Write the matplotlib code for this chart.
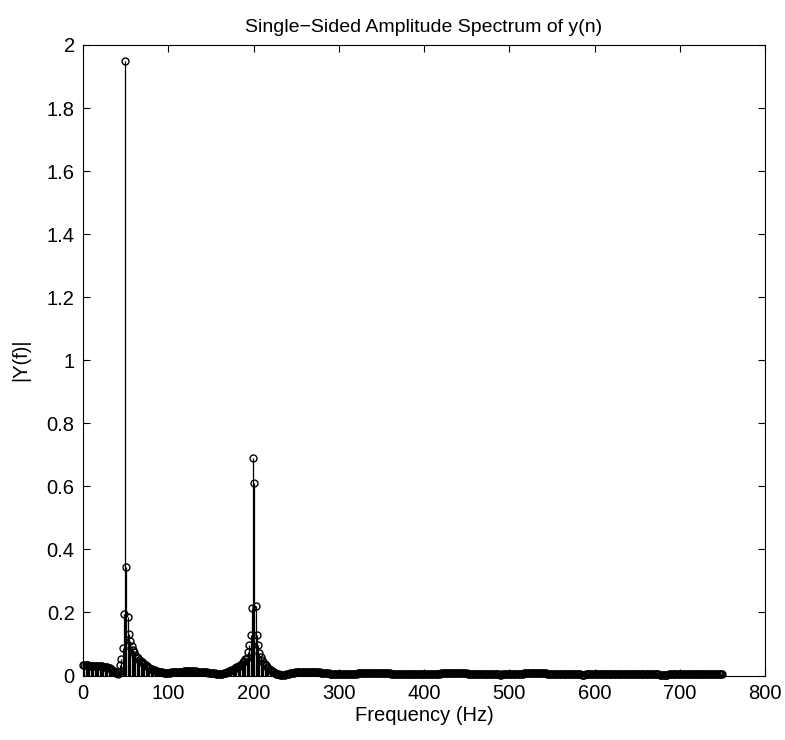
# Single-sided amplitude spectrum, stem plot

import numpy as np
import matplotlib
matplotlib.use('Agg')
from matplotlib import pyplot as plt

plt.rcParams['font.family'] = ['Liberation Sans', 'DejaVu Sans']

Fs = 1500        # sampling frequency
L = 1000         # number of samples -> bin width Fs/L = 1.5 Hz

# |Y(f)|, in thousandths, one value per bin (0 .. 750 Hz)
amp_0_48 = [33, 32, 32, 32, 32, 31, 31, 31, 31, 31, 30, 30, 30, 30, 29, 29, 28, 28, 27,
            26, 25, 23, 21, 18, 15, 12, 8, 5, 12, 32, 51, 88, 195]
amp_peak50 = [1950]
amp_51_102 = [345, 184, 133, 109, 93, 81, 73, 66, 60, 55, 50, 46, 42, 39, 36, 33, 30, 27,
              25, 22, 20, 18, 16, 14, 13, 12, 11, 10, 10, 9, 9, 9, 9, 9, 9]
amp_103_160 = [10, 10, 10, 11, 11, 11, 12, 12, 12, 12, 13, 13, 13, 13, 13, 13, 13, 13, 13, 13,
               12, 12, 12, 12, 11, 11, 11, 10, 10, 9, 9, 8, 8, 7, 7, 6, 6, 5, 5]
amp_162_198 = [5, 6, 7, 8, 9, 11, 13, 15, 17, 19, 21, 23, 26, 28, 31, 34, 38, 42, 47, 52,
               57, 74, 96, 130, 215]
amp_peak200 = [690, 610]
amp_202_234 = [220, 130, 96, 72, 59, 50, 43, 37, 32, 27, 23, 19, 16, 13, 10, 8, 6, 5, 4, 3, 2, 1]
amp_235_298 = [2, 3, 4, 5, 6, 7, 8, 9, 9, 10, 10, 11, 11, 11, 11, 12, 12, 12, 12, 12,
               12, 11, 11, 11, 11, 11, 10, 10, 10, 9, 9, 9, 8, 8, 7, 7, 6, 6, 5, 5, 5, 4, 4]
amp_300_393 = [4, 4, 4, 5, 5, 5, 5, 5, 6, 6, 6, 6, 6, 6, 6, 7, 7, 7, 7, 7, 7, 7, 7, 7, 7, 7, 7,
               7, 7, 7, 7, 7, 7, 7, 7, 7, 7, 7, 7, 7, 7, 6, 6, 6, 6, 6, 6, 6, 6, 6, 5, 5, 5, 5,
               5, 5, 5, 5, 4, 4, 4, 4, 4]
amp_394_487 = [4, 4, 4, 4, 5, 5, 5, 5, 5, 6, 6, 6, 6, 6, 6, 6, 6, 7, 7, 7, 7, 7, 7, 7, 7, 7, 7,
               7, 7, 7, 7, 7, 7, 7, 7, 7, 7, 7, 6, 6, 6, 6, 6, 6, 6, 6, 6, 6, 6, 6, 5, 5, 5, 5,
               5, 5, 5, 5, 5, 4, 4, 4, 4]
amp_489_583 = [3, 3, 4, 4, 4, 4, 5, 5, 5, 5, 5, 6, 6, 6, 6, 6, 6, 6, 6, 7, 7, 7, 7, 7, 7, 7, 7,
               7, 7, 7, 7, 7, 7, 7, 7, 7, 7, 6, 6, 6, 6, 6, 6, 6, 6, 6, 6, 6, 5, 5, 5, 5, 5, 5,
               5, 5, 5, 4, 4, 4, 4, 4, 4, 4]
amp_585_679 = [3, 3, 3, 4, 4, 4, 4, 4, 5, 5, 5, 5, 5, 5, 6, 6, 6, 6, 6, 6, 6, 6, 6, 6, 6, 6, 6,
               6, 6, 6, 6, 6, 6, 6, 6, 6, 6, 6, 6, 6, 6, 5, 5, 5, 5, 5, 5, 5, 5, 5, 5, 5, 4, 4,
               4, 4, 4, 4, 4, 4, 4, 3, 3, 3]
amp_681_750 = [3, 3, 3, 3, 4, 4, 4, 4, 4, 5, 5, 5, 5, 5, 5, 5, 5, 5, 5, 5, 5, 5, 5, 5, 5, 5, 5,
               5, 5, 5, 5, 5, 4, 4, 4, 4, 4, 4, 4, 4, 4, 4, 4, 4, 4, 4, 4]

amp_milli = (amp_0_48 + amp_peak50 + amp_51_102 + amp_103_160 + amp_162_198 + amp_peak200
             + amp_202_234 + amp_235_298 + amp_300_393 + amp_394_487 + amp_489_583
             + amp_585_679 + amp_681_750)
Y = np.array(amp_milli) / 1000.0
f = np.arange(len(Y)) * Fs / L

xticks = [0, 100, 200, 300, 400, 500, 600, 700, 800]
yticks = [0, 0.2, 0.4, 0.6, 0.8, 1, 1.2, 1.4, 1.6, 1.8, 2]
ytick_labels = ['0', '0.2', '0.4', '0.6', '0.8', '1', '1.2', '1.4', '1.6', '1.8', '2']

fig = plt.figure(figsize=(7.85, 7.4), dpi=100)
ax = fig.add_axes([83/785, 1 - 675.5/740, (765 - 83)/785, (675.5 - 45)/740])

ax.vlines(f, 0, Y, colors='k', linewidth=0.9)
ax.plot(f, Y, 'o', ms=5, mfc='none', mec='k', mew=1.0, clip_on=False)

ax.set_xlim(0, 800)
ax.set_ylim(0, 2)
ax.set_xticks(xticks)
ax.set_yticks(yticks)
ax.set_yticklabels(ytick_labels)
ax.tick_params(direction='in', top=True, right=True, length=5, width=0.8,
               labelsize=14.5, pad=6)
for s in ax.spines.values():
    s.set_linewidth(0.8)

ax.set_title('Single\u2212Sided Amplitude Spectrum of y(n)', fontsize=14, pad=9)
ax.set_xlabel('Frequency (Hz)', fontsize=14.5, labelpad=2)
ax.set_ylabel('|Y(f)|', fontsize=14.5, labelpad=12)

plt.savefig('out.png', dpi=100)
